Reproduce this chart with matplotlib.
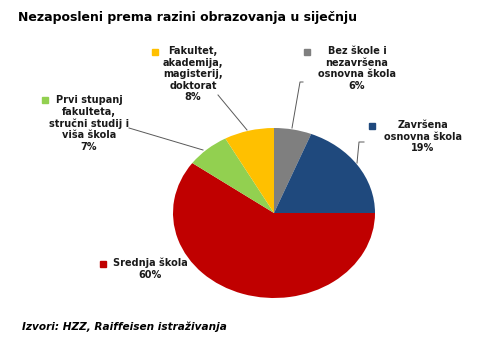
import matplotlib.pyplot as plt
from matplotlib.lines import Line2D

# podaci
kategorije = ['Bez škole i\nnezavršena\nosnovna škola', 'Završena\nosnovna škola',
              'Srednja škola', 'Prvi stupanj\nfakulteta,\nstručni studij i\nviša škola',
              'Fakultet,\nakademija,\nmagisterij,\ndoktorat']
udjeli = [6, 19, 60, 7, 8]
boje = ['#7f7f7f', '#1f497d', '#c00000', '#92d050', '#ffc000']

W, H = 483, 354
fig = plt.figure(figsize=(W / 100, H / 100), dpi=100)
fig.patch.set_facecolor('white')


def fx(x):
    return x / W


def fy(y):
    return 1 - y / H


# pita (blago eliptična kao u originalu)
ax = fig.add_axes([fx(173), fy(298), 202 / W, 170 / H])
ax.pie(udjeli, colors=boje, startangle=90, counterclock=False,
       wedgeprops=dict(linewidth=0))
ax.set_aspect('auto')
ax.set_xlim(-1, 1)
ax.set_ylim(-1, 1)
ax.axis('off')

# naslov i izvor
fig.text(fx(18), fy(17), 'Nezaposleni prema razini obrazovanja u siječnju',
         fontsize=9, fontweight='bold', ha='left', va='center')
fig.text(fx(22), fy(327), 'Izvori: HZZ, Raiffeisen istraživanja',
         fontsize=7.6, fontweight='bold', fontstyle='italic', ha='left', va='center')

# oznake: (tekst centar x, gornji y, marker x, marker y)
pozicije = [(357, 46, 307, 52), (423, 120, 372, 126), (150, 258, 103, 264),
            (89, 95, 45, 100), (193, 46, 155, 52)]
for kat, ud, boja, (tx, ty, mx, my) in zip(kategorije, udjeli, boje, pozicije):
    fig.text(fx(tx), fy(ty), f'{kat}\n{ud}%', fontsize=7, fontweight='bold',
             ha='center', va='top', linespacing=1.2, color='#1a1a1a')
    fig.add_artist(Line2D([fx(mx)], [fy(my)], marker='s', markersize=4.5,
                          color=boja, transform=fig.transFigure))

# linije do isječaka
linije = [
    ([303, 300, 292], [82, 82, 128]),
    ([364, 359, 357], [142, 142, 163]),
    ([129, 203], [128, 150]),
    ([218, 247], [95, 130]),
]
for xs, ys in linije:
    fig.add_artist(Line2D([fx(v) for v in xs], [fy(v) for v in ys],
                          color='#595959', linewidth=0.7, transform=fig.transFigure))

fig.savefig('out.png', dpi=100)
